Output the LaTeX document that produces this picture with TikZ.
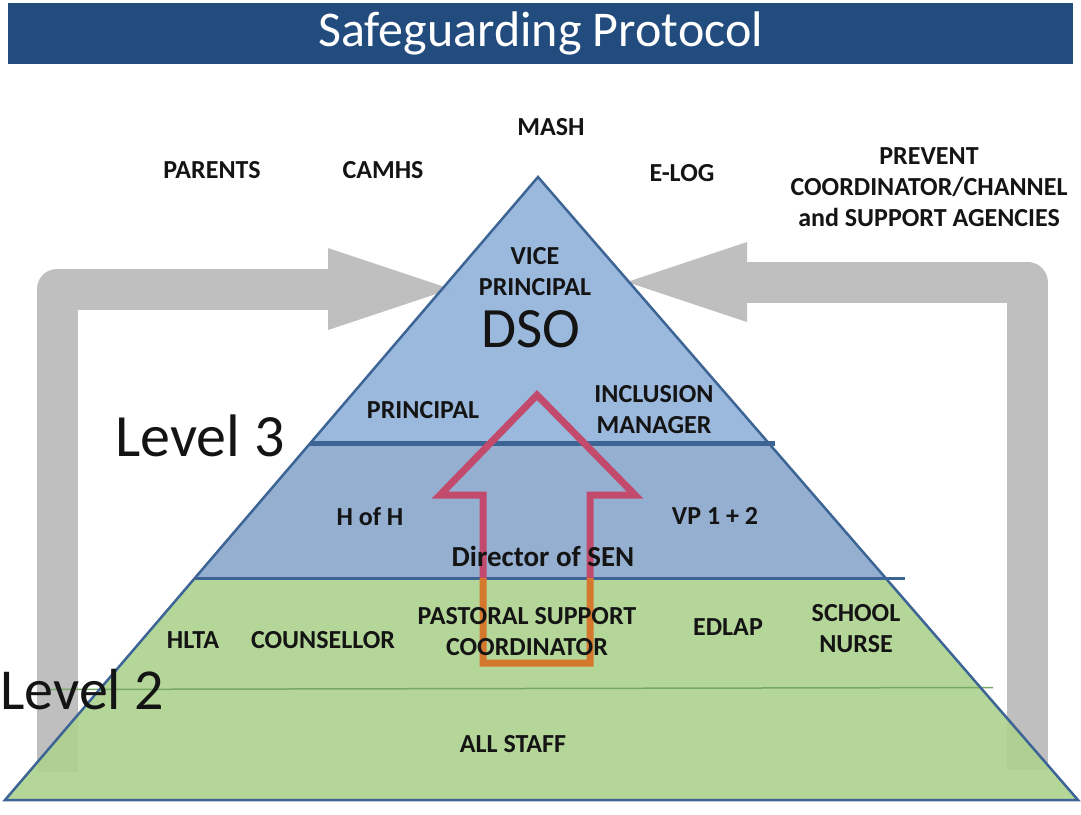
\documentclass[tikz,border=0pt]{standalone}
\usepackage{fontspec}
\setmainfont{Carlito}
\definecolor{titleblue}{HTML}{234C7E}
\definecolor{topblue}{HTML}{93B2DA}
\definecolor{midblue}{HTML}{8CA8CD}
\definecolor{lowgreen}{HTML}{AFD290}
\definecolor{edgeblue}{HTML}{3C6494}
\definecolor{linegreen}{HTML}{78A866}
\definecolor{feedgray}{HTML}{BFBFBF}
\definecolor{uppink}{HTML}{C24A6C}
\definecolor{uporange}{HTML}{D4782E}
\definecolor{txt}{HTML}{141414}
\begin{document}
\begin{tikzpicture}[x=1pt,y=-1pt,
  lbl/.style={font=\fontsize{26}{31}\selectfont\bfseries, text=txt, align=center, inner sep=0pt},
  biglbl/.style={font=\fontsize{60}{60}\selectfont, text=txt, inner sep=0pt},
  feedbar/.style={draw=feedgray, line width=41pt, line join=round},
  feedhead/.style={fill=feedgray},
  band/.style={fill opacity=0.92},
  divider/.style={draw=edgeblue},
  upoutline/.style={line width=7pt, line join=miter}]
\useasboundingbox (0,0) rectangle (1081,814);

% title banner
\node[fill=titleblue, minimum width=1065pt, minimum height=61pt, inner sep=0pt,
      text=white, font=\fontsize{50}{50}\selectfont] (title) at (540.5,33) {Safeguarding Protocol};

% pyramid corner points
\coordinate (apex) at (538,177);
\coordinate (bl) at (5,800);
\coordinate (br) at (1078,800);
\coordinate (l3l) at (310.4,443);
\coordinate (l3r) at (768.6,443);
\coordinate (l2l) at (194.9,578);
\coordinate (l2r) at (885.6,578);

% ends of the feedback loops
\coordinate (lfoot) at (57,772);
\coordinate (lturn) at (57,289);
\coordinate (lneck) at (328,289);
\coordinate (ltip) at (451,289);
\coordinate (rfoot) at (1027,770);
\coordinate (rturn) at (1027,282);
\coordinate (rneck) at (747,282);
\coordinate (rtip) at (627,282);

% grey feedback loops behind the pyramid
\draw[feedbar] (lfoot) -- (lturn) -- (lneck);
\fill[feedhead] (328,248) -- (ltip) -- (328,330) -- cycle;
\draw[feedbar] (rfoot) -- (rturn) -- (rneck);
\fill[feedhead] (747,242) -- (rtip) -- (747,322) -- cycle;

% pyramid bands
\fill[band, topblue] (apex) -- (l3r) -- (l3l) -- cycle;
\fill[band, midblue] (l3l) -- (l3r) -- (l2r) -- (l2l) -- cycle;
\fill[band, lowgreen] (l2l) -- (l2r) -- (br) -- (bl) -- cycle;

% band dividers
\draw[linegreen, line width=1.5pt] (48,689.5) -- (993,687.5);
\draw[divider, line width=3pt] (l2l) -- (905,578);
\draw[divider, line width=5pt] (l3l) -- (775,443);

% pyramid outline
\draw[edgeblue, line width=2.5pt, line join=miter] (apex) -- (br) -- (bl) -- cycle;

% upward escalation arrow
\coordinate (atip) at (537,395);
\coordinate (awr) at (635,495);
\coordinate (asr) at (590,495);
\coordinate (abr) at (590,663);
\coordinate (abl) at (483,663);
\coordinate (asl) at (483,495);
\coordinate (awl) at (440,495);
\begin{scope}
  \clip (0,0) rectangle (1081,578);
  \draw[upoutline, uppink] (atip) -- (awr) -- (asr) -- (abr) -- (abl) -- (asl) -- (awl) -- cycle;
\end{scope}
\begin{scope}
  \clip (0,578) rectangle (1081,814);
  \draw[upoutline, uporange] (atip) -- (awr) -- (asr) -- (abr) -- (abl) -- (asl) -- (awl) -- cycle;
\end{scope}

% outside agencies
\node[lbl] (mash) at (551,127) {MASH};
\node[lbl] (parents) at (212,170) {PARENTS};
\node[lbl] (camhs) at (383,170) {CAMHS};
\node[lbl] (elog) at (682,173) {E-LOG};
\node[lbl] (prevent) at (929,187) {PREVENT\\COORDINATOR/CHANNEL\\and SUPPORT AGENCIES};

% top tier
\node[lbl] (vp) at (535,272) {VICE\\PRINCIPAL};
\node[font=\fontsize{57}{57}\selectfont, text=txt, inner sep=0pt] (dso) at (531,329) {DSO};
\node[lbl] (principal) at (423,410) {PRINCIPAL};
\node[lbl] (incl) at (654,410) {INCLUSION\\MANAGER};

% middle tier
\node[lbl] (hofh) at (370,517) {H of H};
\node[lbl] (vp12) at (715,516) {VP 1 + 2};
\node[lbl, font=\fontsize{29}{31}\selectfont\bfseries] (sen) at (543,556) {Director of SEN};

% lower tier
\node[lbl] (hlta) at (193,640) {HLTA};
\node[lbl] (couns) at (323,640) {COUNSELLOR};
\node[lbl] (pastoral) at (527,632) {PASTORAL SUPPORT\\COORDINATOR};
\node[lbl] (edlap) at (728,627) {EDLAP};
\node[lbl] (nurse) at (856,629) {SCHOOL\\NURSE};
\node[lbl] (staff) at (513,744) {ALL STAFF};

% level captions
\node[biglbl] (lev3) at (200,436) {Level 3};
\node[biglbl, font=\fontsize{58}{58}\selectfont] (lev2) at (82,690) {Level 2};
\end{tikzpicture}
\end{document}
